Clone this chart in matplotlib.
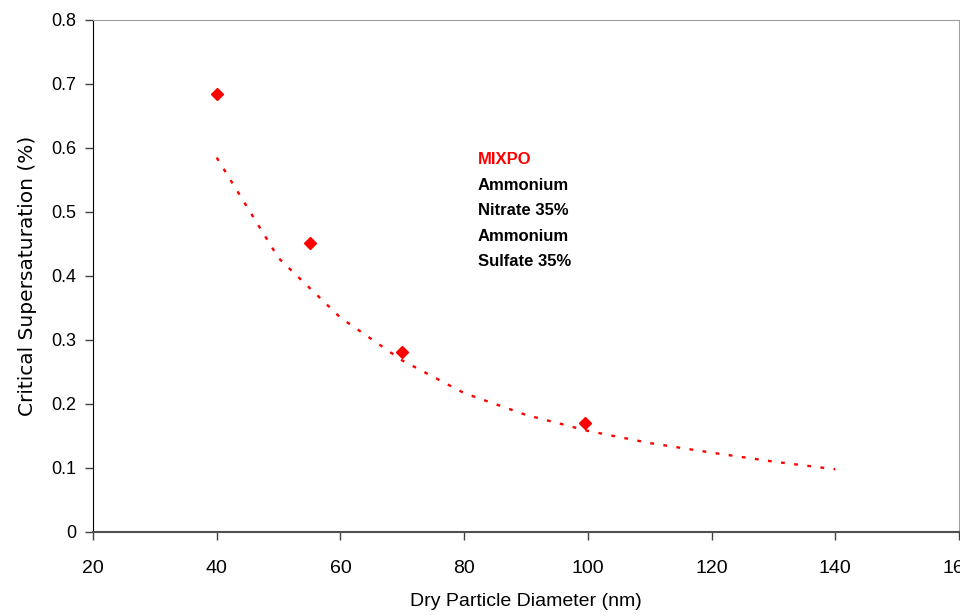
import numpy as np
import matplotlib
matplotlib.use("Agg")
import matplotlib.pyplot as plt

plt.rcParams['font.family'] = ['Liberation Sans', 'DejaVu Sans']

# measured points (dry diameter nm, critical supersaturation %)
diameter = [40, 55, 70, 99.5]
sc = [0.685, 0.452, 0.281, 0.170]

# power trend line
trend_d = [40, 50, 60, 70, 80, 90, 100, 110, 120, 130, 140]
trend_sc = [0.585, 0.428, 0.335, 0.268, 0.217, 0.183, 0.158, 0.139, 0.124, 0.110, 0.098]

label_lines = ["MIXPO", "Ammonium", "Nitrate 35%", "Ammonium", "Sulfate 35%"]
label_colors = ["#ff0000", "black", "black", "black", "black"]

x_ticks = [20, 40, 60, 80, 100, 120, 140, 160]
y_ticks = [0, 0.1, 0.2, 0.3, 0.4, 0.5, 0.6, 0.7, 0.8]

fig = plt.figure(figsize=(9.6, 6.15), dpi=100)
ax = fig.add_axes([93 / 960, 1 - 532 / 615, 866 / 960, 512 / 615])

ax.plot(trend_d, trend_sc, color="#ff0000", lw=1.7, dashes=(1.6, 4.0))
ax.plot(diameter, sc, linestyle="none", marker="D", ms=6.5, color="#ff0000")

ax.set_xlim(20, 160)
ax.set_ylim(0, 0.8)
ax.set_xticks(x_ticks)
ax.set_yticks(y_ticks)
ax.set_xticklabels([str(v) for v in x_ticks], fontsize=14)
ax.set_yticklabels([f"{v:g}" for v in y_ticks], fontsize=13)
ax.tick_params(axis="x", direction="out", length=6, width=1, pad=14, color="#404040")
ax.tick_params(axis="y", direction="out", length=6, width=1, pad=6, color="#404040")

for side in ["top", "right"]:
    ax.spines[side].set_color("#a0a0a0")
ax.spines["left"].set_color("black")
ax.spines["bottom"].set_color("#505050")
ax.spines["bottom"].set_linewidth(1.5)

ax.set_xlabel("Dry Particle Diameter (nm)", fontsize=14, labelpad=12)
ax.set_ylabel("Critical Supersaturation (%)", fontsize=14.5,
              family=['DejaVu Sans'], labelpad=10)

for i, (txt, col) in enumerate(zip(label_lines, label_colors)):
    ax.text(0.4446, 0.7266 - i * 0.0498, txt, transform=ax.transAxes,
            color=col, fontsize=12, fontweight="bold", va="center", ha="left")

fig.savefig("out.png", dpi=100)
